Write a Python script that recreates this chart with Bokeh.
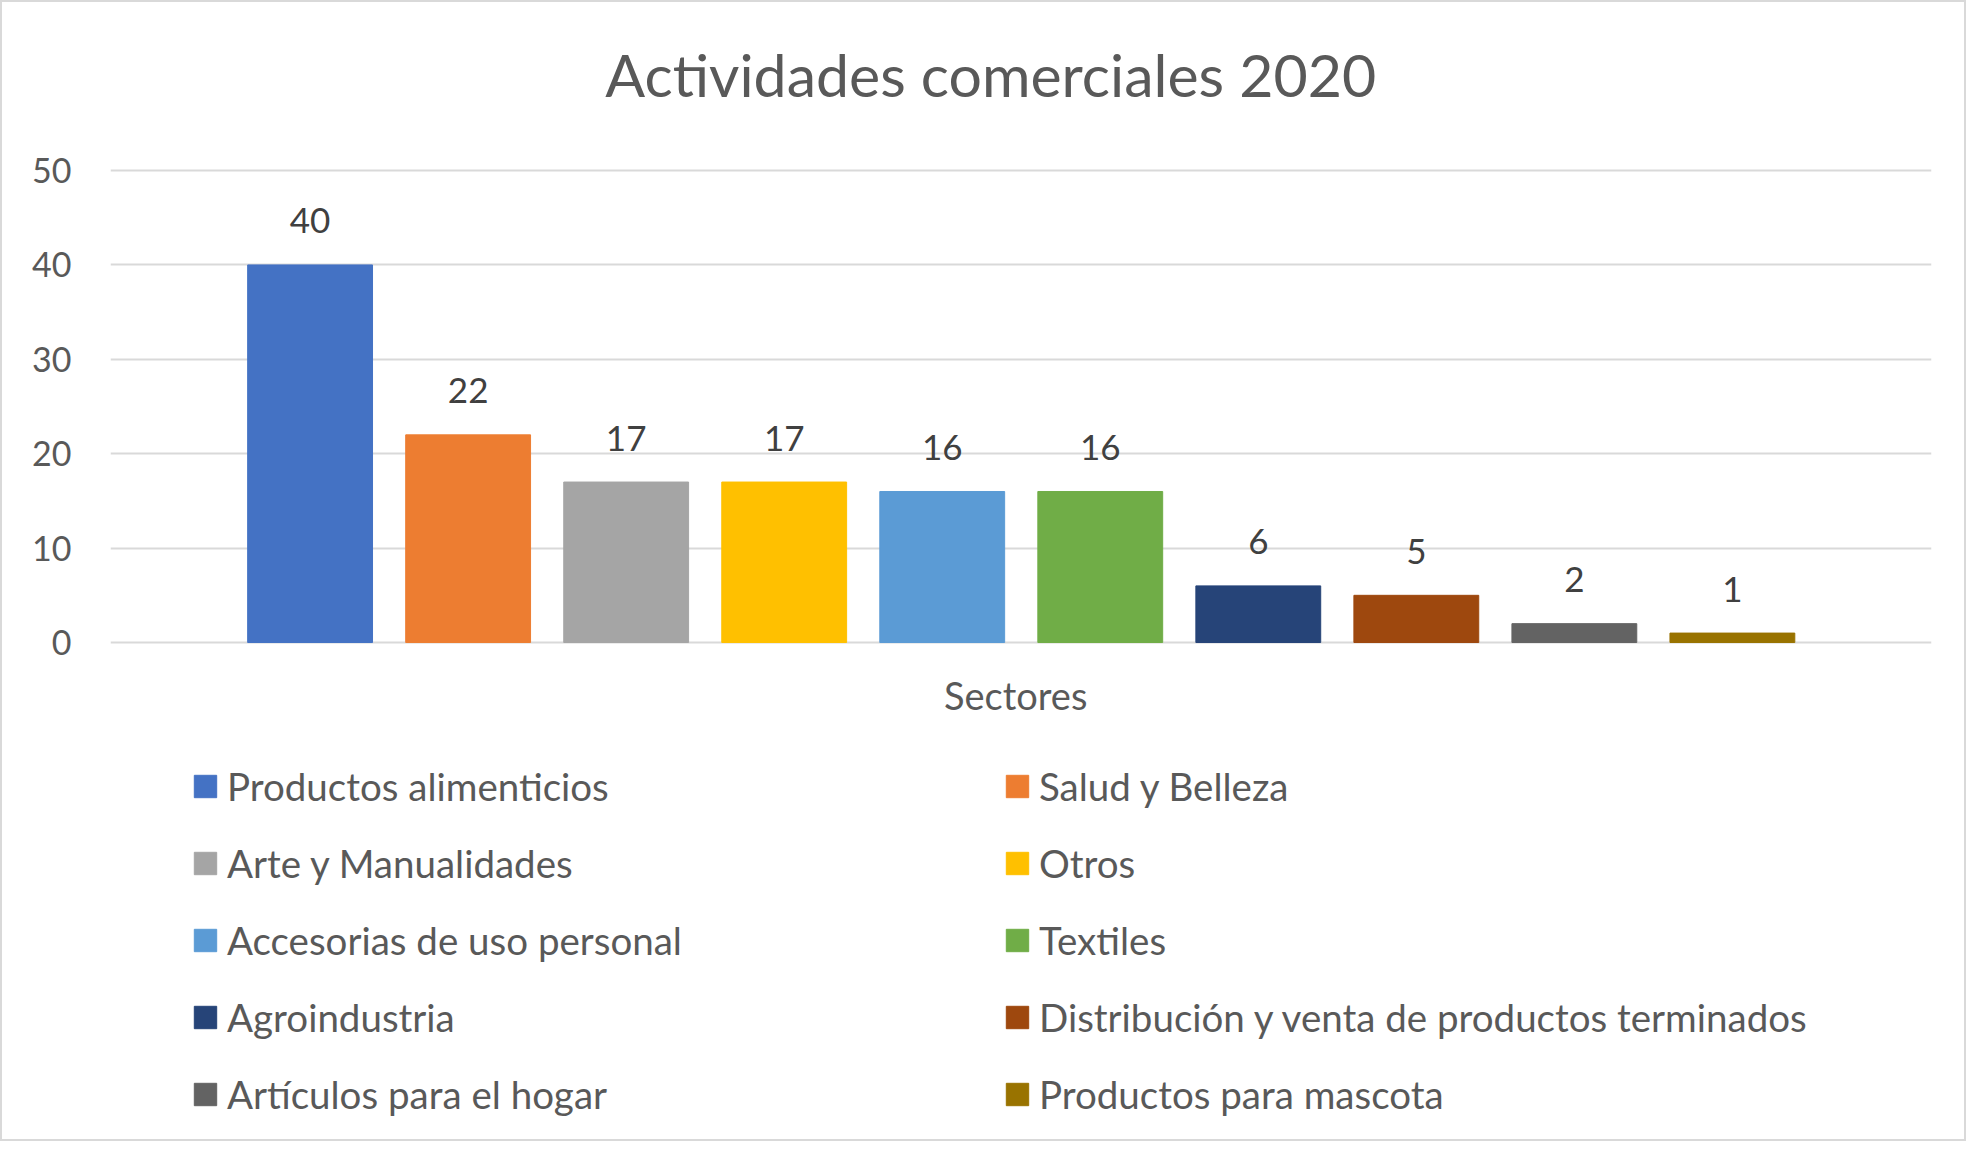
from bokeh.plotting import figure
from bokeh.models import (ColumnDataSource, Range1d, FixedTicker, Legend, LegendItem, Label)
from bokeh.core.properties import value
from bokeh.embed import file_html
from bokeh.resources import INLINE

# ---- data ----
sectores = ["Productos alimenticios", "Salud y Belleza", "Arte y Manualidades", "Otros",
            "Accesorias de uso personal", "Textiles", "Agroindustria",
            "Distribución y venta de productos terminados", "Artículos para el hogar",
            "Productos para mascota"]
valores = [40, 22, 17, 17, 16, 16, 6, 5, 2, 1]
colores = ["#4472C4", "#ED7D31", "#A5A5A5", "#FFC000", "#5B9BD5", "#70AD47",
           "#264478", "#9E480E", "#636363", "#997300"]
y_ticks = [0, 10, 20, 30, 40, 50]
titulo = "Actividades comerciales 2020"
eje_x = "Sectores"

FONT = "Lato"
TXT = "#595959"

idx = list(range(len(sectores)))
src = ColumnDataSource(dict(x=idx, y=valores, c=colores, s=sectores,
                            lab=[str(v) for v in valores]))

p = figure(width=1966, height=1141, output_backend="svg", toolbar_location=None,
           x_range=Range1d(-1.263, 10.26), y_range=Range1d(-53.07, 67.80),
           min_border_left=108, min_border_right=37, min_border_top=0,
           min_border_bottom=0)
p.outline_line_color = None
p.xaxis.visible = False
p.xgrid.visible = False

yax = p.yaxis[0]
yax.ticker = FixedTicker(ticks=y_ticks)
yax.axis_line_color = None
yax.major_tick_line_color = None
yax.minor_tick_line_color = None
yax.major_tick_out = 0
yax.major_label_standoff = 39
yax.major_label_text_font = FONT
yax.major_label_text_font_size = "34px"
yax.major_label_text_color = TXT

p.ygrid.ticker = FixedTicker(ticks=y_ticks)
p.ygrid.grid_line_color = "#D9D9D9"
p.ygrid.grid_line_width = 2

bars = p.vbar(x="x", top="y", bottom=0, width=0.79, color="c", source=src)

p.text(x="x", y="y", text="lab", source=src, text_align="center",
       text_baseline="middle", y_offset=-44, text_font=value(FONT),
       text_font_size="35px", text_color="#404040")

p.add_layout(Label(x=4.307, y=60.15, text=titulo, text_align="center",
                   text_baseline="middle", text_font=FONT, text_font_size="59px",
                   text_color=TXT))
p.add_layout(Label(x=4.465, y=-5.51, text=eje_x, text_align="center",
                   text_baseline="middle", text_font=FONT, text_font_size="38px",
                   text_color=TXT))

def make_legend(indices, loc):
    items = [LegendItem(label=sectores[i], renderers=[bars], index=i) for i in indices]
    lg = Legend(items=items, location=loc, orientation="vertical",
                padding=0, margin=0, spacing=31, glyph_width=28, glyph_height=28,
                label_standoff=8, label_height=22,
                label_text_font=FONT, label_text_font_size="38.5px",
                label_text_color=TXT, border_line_color=None,
                background_fill_alpha=0)
    return lg

p.add_layout(make_legend([0, 2, 4, 6, 8], (81, 26)))
p.add_layout(make_legend([1, 3, 5, 7, 9], (893, 26)))

p.styles = {"border": "2px solid #D9D9D9", "box-sizing": "border-box"}

open("out.html", "w").write(file_html(p, INLINE))
